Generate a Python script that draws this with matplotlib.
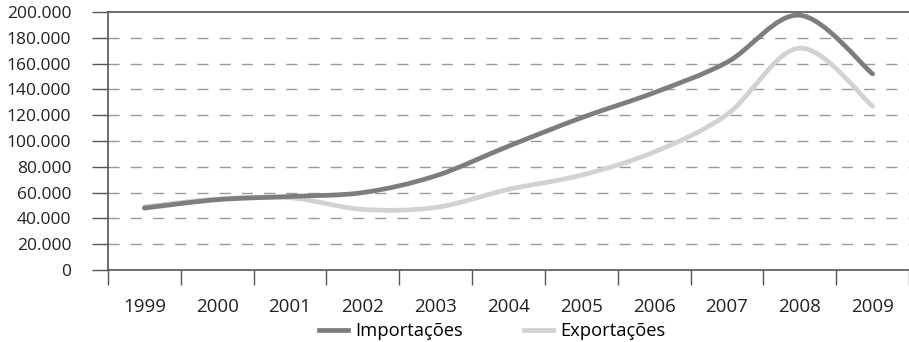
import numpy as np
import matplotlib
matplotlib.use("Agg")
import matplotlib.pyplot as plt
from matplotlib.path import Path
from matplotlib.patches import PathPatch
from matplotlib.lines import Line2D

plt.rcParams["font.family"] = ["Open Sans", "DejaVu Sans"]

years = ["1999", "2000", "2001", "2002", "2003", "2004",
         "2005", "2006", "2007", "2008", "2009"]
importacoes = [48000, 54500, 57000, 60000, 73000, 96000,
               118000, 137500, 161000, 197500, 152000]
exportacoes = [49000, 55000, 56000, 47000, 48500, 62500,
               73500, 91500, 120500, 172000, 127000]
y_ticks = list(range(0, 200001, 20000))

dark = "#7d7d7f"
light = "#d2d2d2"


def smooth_path(xs, ys):
    # Bezier curve through every point, Excel-style smoothed line
    pts = np.column_stack([xs, ys]).astype(float)
    n = len(pts)
    verts = [pts[0]]
    codes = [Path.MOVETO]
    for i in range(n - 1):
        p0 = pts[i - 1] if i > 0 else pts[i]
        p1, p2 = pts[i], pts[i + 1]
        p3 = pts[i + 2] if i + 2 < n else pts[i + 1]
        c1 = p1 + (p2 - p0) / 6.0
        c2 = p2 - (p3 - p1) / 6.0
        verts += [c1, c2, p2]
        codes += [Path.CURVE4] * 3
    return Path(verts, codes)


fig = plt.figure(figsize=(9.09, 3.42), dpi=100)
ax = fig.add_axes([108 / 909, 1 - 270 / 342, 1 - 108 / 909, 258 / 342])

x = np.arange(len(years))
for vals, col in [(exportacoes, light), (importacoes, dark)]:
    ax.add_patch(PathPatch(smooth_path(x, vals), facecolor="none",
                           edgecolor=col, lw=3.4, capstyle="round", zorder=3))

ax.set_xlim(-0.5, len(years) - 0.5)
ax.set_ylim(0, 200000)
ax.set_yticks(y_ticks)
ax.set_yticklabels([f"{v:,}".replace(",", ".") for v in y_ticks])
for v in y_ticks[1:-1]:
    ax.axhline(v, color="#9a9a9a", lw=1.0, dashes=(8, 8), zorder=1)

ax.set_xticks(np.arange(len(years) + 1) - 0.5)
ax.set_xticklabels([])
ax.set_xticks(x, minor=True)
ax.set_xticklabels(years, minor=True)
ax.tick_params(axis="x", which="major", length=11, width=1, color="#555555")
ax.tick_params(axis="x", which="minor", length=0, pad=20, labelsize=13.5,
               labelcolor="#222222")
ax.tick_params(axis="y", length=11.5, width=1, color="#555555", pad=15,
               labelsize=12.5, labelcolor="#222222")

for side in ["left", "bottom", "top"]:
    ax.spines[side].set_color("#555555")
    ax.spines[side].set_linewidth(1.2)
ax.spines["right"].set_visible(False)

handles = [Line2D([], [], color=dark, lw=3.4),
           Line2D([], [], color=light, lw=3.4)]
fig.legend(handles, ["Importações", "Exportações"], loc="center",
           bbox_to_anchor=(492 / 909, 1 - 331 / 342), ncol=2, frameon=False,
           fontsize=13.2, handlelength=1.6, handletextpad=0.4,
           columnspacing=3.3, borderpad=0)

fig.savefig("out.png", dpi=100)
